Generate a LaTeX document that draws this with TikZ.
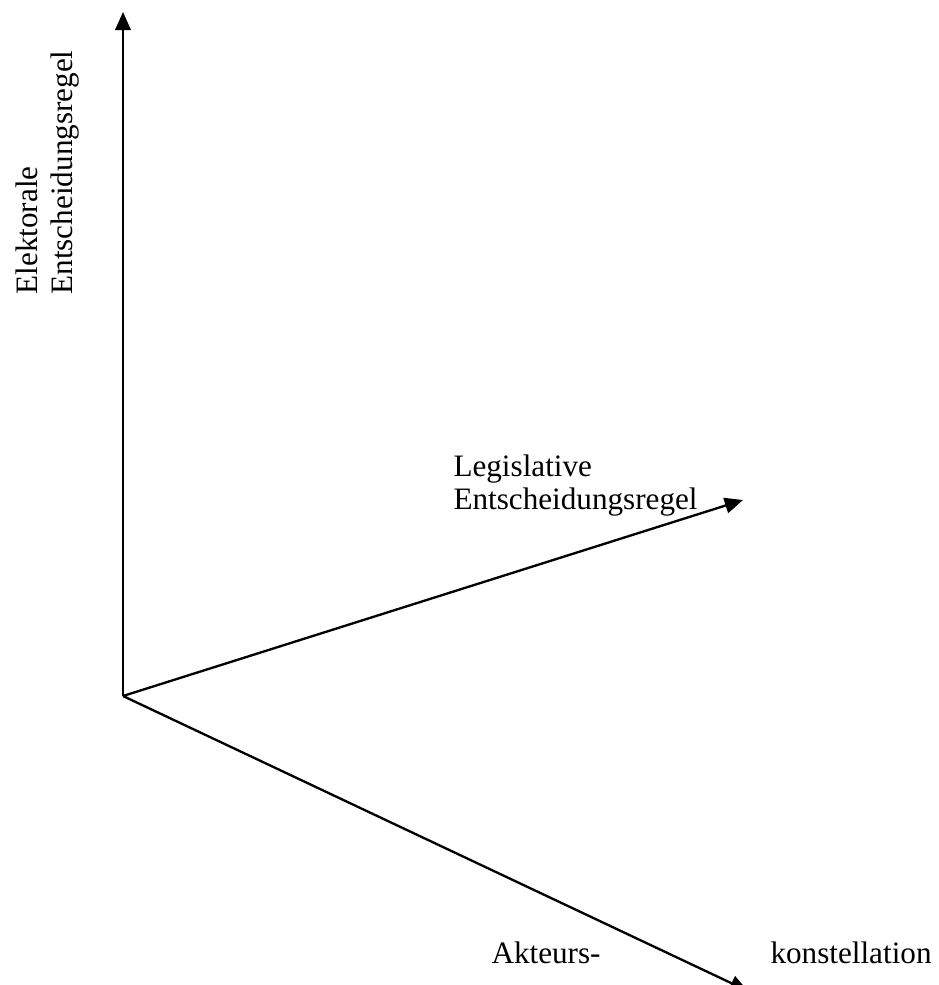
\documentclass[tikz,border=0pt]{standalone}
\usepackage{fontspec}
\setmainfont{Liberation Serif}
\usetikzlibrary{arrows.meta}

\begin{document}
\begin{tikzpicture}[
      x=0.385pt, y=-0.385pt,
      axis/.style={
        line width=0.9pt,
        -{Triangle[length=7pt, width=6pt]}
      },
      axislabel/.style={
        inner sep=0pt,
        anchor=base west,
        font=\fontsize{12}{14}\selectfont
      }
    ]
    \useasboundingbox (0,0) rectangle (938,985);

    % Axes
    \coordinate (origin) at (123,696);
    \coordinate (elecTip) at (123,12);
    \coordinate (legTip) at (743,500);
    \coordinate (actTip) at (748,991);

    \draw [axis] (origin) -- (elecTip);
    \draw [axis] (origin) -- (legTip);
    \draw [axis] (origin) -- (actTip);

    % Elektorale Entscheidungsregel
    \node (elecLabelA) [axislabel, rotate=90] at (37,295) {Elektorale};
    \node (elecLabelB) [axislabel, rotate=90] at (72,295) {Entscheidungsregel};

    % Legislative Entscheidungsregel
    \node (legLabelA) [axislabel] at (453,476) {Legislative};
    \node (legLabelB) [axislabel] at (453,509) {Entscheidungsregel};

    % Akteurskonstellation
    \node (actLabelA) [axislabel] at (491,963) {Akteurs-};
    \node (actLabelB) [axislabel] at (770,963) {konstellation};

\end{tikzpicture}
\end{document}
